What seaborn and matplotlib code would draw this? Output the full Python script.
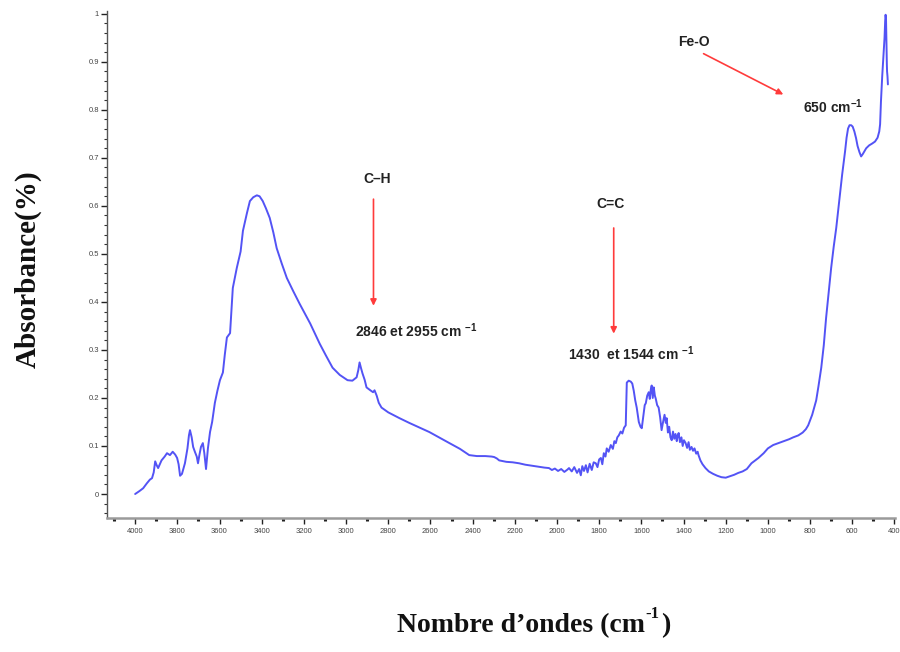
import matplotlib
matplotlib.use("Agg")
import matplotlib.pyplot as plt
from matplotlib.ticker import MultipleLocator, FuncFormatter
import seaborn as sns
import pandas as pd

# FTIR spectrum: wavenumber (cm-1) and absorbance
wavenumber = [
    4000, 3980, 3962, 3945, 3930, 3920, 3912, 3905, 3898, 3891, 3875, 3860, 3849, 3835,
    3822, 3810, 3801, 3794, 3787, 3778, 3764, 3752, 3745, 3740, 3732, 3725, 3716, 3708,
    3702, 3695, 3688, 3679, 3672, 3664, 3655, 3645, 3635, 3622, 3610, 3598, 3584, 3575,
    3565, 3550, 3537, 3518, 3500, 3489, 3470, 3456, 3440, 3423, 3410, 3395, 3380, 3362,
    3345, 3329, 3305, 3281, 3250, 3220, 3170, 3125, 3095, 3064, 3030, 2993, 2970, 2950,
    2942, 2936, 2929, 2922, 2912, 2903, 2885, 2872, 2865, 2855, 2845, 2832, 2800, 2747,
    2700, 2650, 2605, 2560, 2510, 2460, 2416, 2380, 2340, 2310, 2298, 2285, 2274, 2240,
    2210, 2180, 2150, 2120, 2090, 2060, 2038, 2024, 2010, 1995, 1980, 1965, 1950, 1943,
    1930, 1918, 1905, 1895, 1887, 1880, 1872, 1863, 1855, 1845, 1835, 1826, 1816, 1808,
    1800, 1792, 1785, 1778, 1770, 1764, 1755, 1745, 1735, 1728, 1721, 1714, 1707, 1698,
    1690, 1682, 1674, 1669, 1660, 1650, 1643, 1636, 1629, 1622, 1612, 1604, 1598, 1590,
    1584, 1579, 1572, 1565, 1560, 1555, 1551, 1546, 1541, 1536, 1532, 1525, 1518, 1511,
    1504, 1497, 1490, 1484, 1480, 1474, 1468, 1462, 1456, 1450, 1444, 1438, 1432, 1428,
    1423, 1417, 1410, 1404, 1398, 1390, 1383, 1376, 1370, 1362, 1355, 1348, 1340, 1333,
    1329, 1320, 1310, 1296, 1280, 1260, 1240, 1220, 1200, 1180, 1160, 1140, 1120, 1100,
    1078, 1060, 1045, 1020, 1000, 975, 950, 925, 900, 880, 856, 835, 820, 809, 790,
    771, 760, 747, 735, 724, 712, 700, 688, 676, 662, 648, 634, 627, 620, 613, 605,
    598, 590, 582, 575, 566, 558, 550, 542, 534, 520, 505, 492, 480, 472, 468, 464,
    458, 452, 447, 444, 442, 440, 438, 436, 435, 433, 431,
]
absorbance = [
    0.000, 0.006, 0.012, 0.022, 0.030, 0.033, 0.045, 0.068, 0.060, 0.054, 0.070, 0.078, 0.085, 0.081,
    0.088, 0.082, 0.075, 0.062, 0.038, 0.042, 0.064, 0.095, 0.122, 0.133, 0.118, 0.098, 0.087, 0.078,
    0.064, 0.082, 0.098, 0.106, 0.085, 0.052, 0.095, 0.129, 0.150, 0.190, 0.215, 0.237, 0.253, 0.290,
    0.326, 0.335, 0.429, 0.471, 0.505, 0.548, 0.585, 0.610, 0.618, 0.622, 0.620, 0.610, 0.595, 0.575,
    0.545, 0.512, 0.480, 0.450, 0.422, 0.396, 0.355, 0.313, 0.288, 0.263, 0.248, 0.237, 0.236, 0.243,
    0.258, 0.274, 0.262, 0.251, 0.238, 0.222, 0.216, 0.212, 0.216, 0.205, 0.190, 0.180, 0.170, 0.158,
    0.148, 0.138, 0.129, 0.118, 0.106, 0.094, 0.081, 0.079, 0.079, 0.078, 0.077, 0.074, 0.070, 0.067,
    0.066, 0.064, 0.061, 0.059, 0.057, 0.055, 0.054, 0.050, 0.053, 0.048, 0.052, 0.046, 0.051, 0.054,
    0.047, 0.056, 0.044, 0.052, 0.039, 0.058, 0.048, 0.060, 0.045, 0.063, 0.050, 0.066, 0.064, 0.056,
    0.072, 0.075, 0.062, 0.085, 0.078, 0.095, 0.088, 0.102, 0.094, 0.110, 0.106, 0.118, 0.122, 0.130,
    0.126, 0.138, 0.143, 0.232, 0.236, 0.234, 0.230, 0.215, 0.195, 0.180, 0.150, 0.140, 0.137, 0.165,
    0.185, 0.189, 0.205, 0.212, 0.198, 0.218, 0.226, 0.200, 0.222, 0.205, 0.199, 0.185, 0.180, 0.160,
    0.133, 0.150, 0.165, 0.148, 0.158, 0.128, 0.140, 0.118, 0.112, 0.130, 0.115, 0.125, 0.110, 0.122,
    0.127, 0.108, 0.118, 0.100, 0.112, 0.106, 0.096, 0.108, 0.092, 0.098, 0.090, 0.095, 0.084, 0.088,
    0.081, 0.070, 0.062, 0.054, 0.047, 0.042, 0.038, 0.035, 0.034, 0.037, 0.040, 0.044, 0.047, 0.052,
    0.064, 0.070, 0.075, 0.085, 0.095, 0.102, 0.106, 0.110, 0.114, 0.118, 0.122, 0.128, 0.135, 0.143, 0.165,
    0.195, 0.225, 0.263, 0.310, 0.367, 0.420, 0.471, 0.515, 0.554, 0.610, 0.665, 0.714, 0.742, 0.761, 0.768, 0.768,
    0.765, 0.755, 0.741, 0.725, 0.712, 0.703, 0.708, 0.714, 0.720, 0.726, 0.730, 0.734, 0.742, 0.755, 0.770, 0.817,
    0.870, 0.915, 0.950, 0.985, 0.998, 0.990, 0.940, 0.895, 0.880, 0.870, 0.853,
]

x_ticks = [4000, 3800, 3600, 3400, 3200, 3000, 2800, 2600, 2400, 2200, 2000,
           1800, 1600, 1400, 1200, 1000, 800, 600, 400]

df = pd.DataFrame({"wavenumber": wavenumber, "absorbance": absorbance})

sns.set_theme(style="ticks")
plt.rcParams["font.family"] = ["Liberation Sans", "DejaVu Sans"]
plt.rcParams["mathtext.fontset"] = "custom"
plt.rcParams["mathtext.rm"] = "Liberation Sans"
plt.rcParams["mathtext.bf"] = "Liberation Sans:bold"

fig = plt.figure(figsize=(9, 6.52), dpi=100)
ax = fig.add_axes([0.119, 0.2055, 0.876, 0.777])

sns.lineplot(data=df, x="wavenumber", y="absorbance", sort=False, ax=ax,
             color="#5353f5", linewidth=1.4, estimator=None)

ax.set_xlim(4133, 395)
ax.set_ylim(-0.05, 1.005)
ax.set_xticks(x_ticks)
ax.xaxis.set_minor_locator(MultipleLocator(100))
ax.yaxis.set_major_locator(MultipleLocator(0.1))
ax.yaxis.set_minor_locator(MultipleLocator(0.02))
ax.yaxis.set_major_formatter(FuncFormatter(
    lambda v, p: f"{v:.1f}".rstrip("0").rstrip(".") if abs(v) > 1e-9 else "0"))

for side in ("top", "right"):
    ax.spines[side].set_visible(False)
ax.spines["left"].set_color("#555555")
ax.spines["left"].set_linewidth(1.0)
ax.spines["bottom"].set_color("#9a9a9a")
ax.spines["bottom"].set_linewidth(1.8)

ax.tick_params(axis="both", which="both", bottom=True, left=True, top=False, right=False)
ax.tick_params(axis="both", which="major", direction="out", length=4, width=1.0,
               color="#222222", labelsize=5.5, labelcolor="#444444", pad=2)
ax.tick_params(axis="x", which="minor", direction="out", length=2.5, width=2.2,
               color="#222222")
ax.tick_params(axis="y", which="minor", direction="out", length=2.5, width=0.8,
               color="#333333")
ax.tick_params(axis="x", which="major", pad=3)

ax.set_xlabel("")
ax.set_ylabel("")

# Axis titles in bold serif, with a small superscript on the unit
serif_kw = dict(fontsize=20, fontweight="bold", family="Liberation Serif", color="#111111")
xlab = fig.text(0.441, 0.022, "Nombre d\u2019ondes (cm", ha="left", va="bottom", **serif_kw)
fig.canvas.draw()
bb = xlab.get_window_extent()
x_end = bb.x1 / fig.bbox.width
sup = fig.text(x_end + 0.001, 0.022 + 0.024, "-1", ha="left", va="bottom",
               fontsize=12, fontweight="bold", family="Liberation Serif", color="#111111")
fig.canvas.draw()
x_end2 = sup.get_window_extent().x1 / fig.bbox.width
fig.text(x_end2 + 0.001, 0.022, ")", ha="left", va="bottom", **serif_kw)

fig.text(0.031, 0.587, "Absorbance(%)", ha="center", va="center", rotation=90,
         **{**serif_kw, "fontsize": 21})

arrow_style = dict(arrowstyle="-|>", color="#ff3b3b", lw=1.2, mutation_scale=9,
                   shrinkA=0, shrinkB=0)
label_kw = dict(fontsize=10, fontweight="bold", color="#222222", ha="center", va="center")

# Fe-O band
ax.text(1352, 0.942, "Fe-O", **label_kw)
ax.annotate("", xy=(927, 0.832), xytext=(1305, 0.917), arrowprops=arrow_style)
ax.text(690, 0.807, "650 cm$^{\\mathbf{-1}}$", **label_kw)

# C-H stretching
ax.text(2851, 0.656, "C\u2013H", **label_kw)
ax.annotate("", xy=(2870, 0.392), xytext=(2870, 0.614), arrowprops=arrow_style)
ax.text(2667, 0.340, "2846 et 2955 cm $^{\\mathbf{-1}}$", **label_kw)

# C=C stretching
ax.text(1745, 0.604, "C=C", **label_kw)
ax.annotate("", xy=(1731, 0.334), xytext=(1731, 0.554), arrowprops=arrow_style)
ax.text(1650, 0.293, "1430  et 1544 cm $^{\\mathbf{-1}}$", **label_kw)

fig.savefig("out.png", dpi=100)
